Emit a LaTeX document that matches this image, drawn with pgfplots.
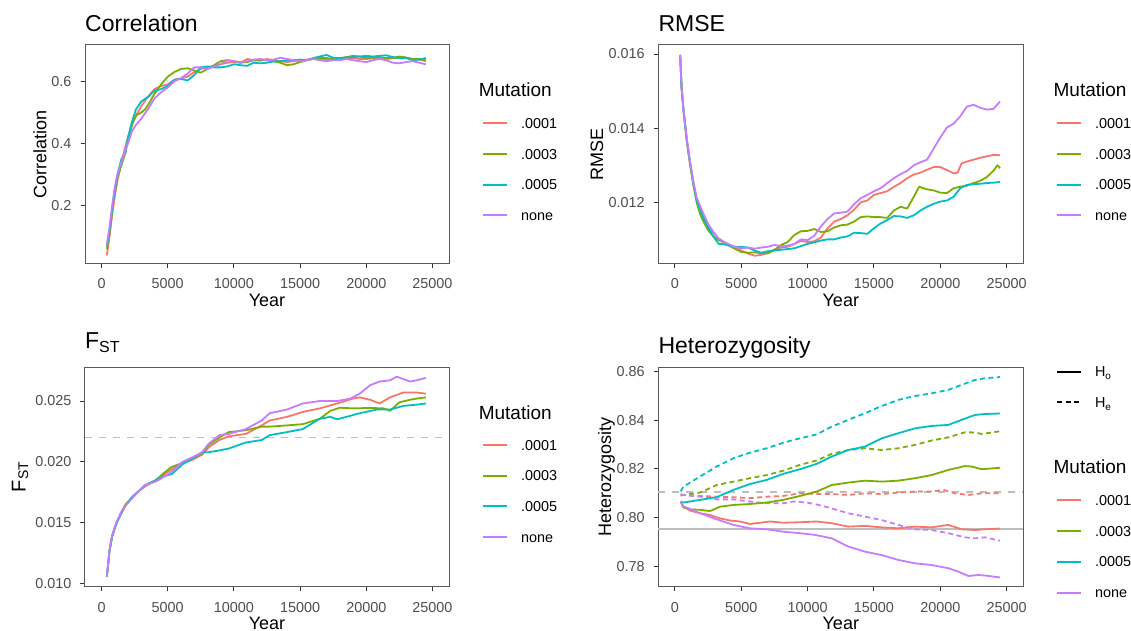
\documentclass[border=0pt]{standalone}
\usepackage{fontspec}
\setmainfont{Liberation Sans}
\usepackage{pgfplots}
\pgfplotsset{compat=1.18}

\definecolor{mu1}{HTML}{F8766D}
\definecolor{mu3}{HTML}{7CAE00}
\definecolor{mu5}{HTML}{00BFC4}
\definecolor{mun}{HTML}{C77CFF}
\definecolor{gg20}{HTML}{333333}
\definecolor{gg30}{HTML}{4D4D4D}
\definecolor{frame}{HTML}{5A5A5A}
\definecolor{refl}{HTML}{BEBEBE}

\newcommand{\fs}[1]{\fontsize{#1}{#1}\selectfont}

\tikzset{legtitle/.style={anchor=base west, inner sep=0pt, font=\fs{19}}}

\pgfplotsset{
  panel/.style={
    scale only axis, anchor=south west, clip=false,
    xmin=-1250, xmax=26250,
    xtick={0,5000,10000,15000,20000,25000},
    tick align=outside, tick pos=left, major tick length=4.5pt,
    tick style={draw=gg20, line width=1pt},
    axis line style={draw=frame, line width=1pt},
    /pgf/number format/assume math mode=true,
    tick label style={font=\fs{14.4}, text=gg30},
    xticklabel style={anchor=north, inner sep=0pt, yshift=-10.6pt,
      /pgf/number format/1000 sep={}},
    yticklabel style={anchor=east, inner sep=0pt, xshift=-9pt},
    scaled ticks=false,
    label style={font=\fs{18}},
    xlabel={Year},
    title style={font=\fs{23}, anchor=base west, inner sep=0pt, yshift=-6pt},
    legend cell align=left,
    legend image code/.code={\draw[##1, line width=2pt] (0pt,0pt) -- (24pt,0pt);},
    legend style={draw=none, fill=none, inner sep=0pt, outer sep=0pt,
      anchor=north west, font=\fs{14.4}, /tikz/column sep=13pt,
      /tikz/row sep=0pt,
      nodes={inner sep=0pt, text height=10.3pt, text depth=0pt,
        minimum height=30.67pt, text=black}},
  },
  ser/.style={line width=1.8pt, line join=round},
  he/.style={ser, dash pattern=on 5pt off 3.5pt},
}

\begin{document}
\begin{tikzpicture}

% ---------------- Correlation ----------------
\begin{axis}[panel, at={(85pt,367.5pt)}, width=364pt, height=218.5pt,
  ymin=0.014, ymax=0.717, ytick={0.2,0.4,0.6},
  yticklabel style={/pgf/number format/.cd, fixed, fixed zerofill, precision=1},
  ylabel={Correlation},
  ylabel style={at={(axis description cs:-0.106,0.5)}, anchor=base},
  xlabel style={at={(axis description cs:0.5,-0.196)}, anchor=base},
  title={Correlation}, title style={at={(axis description cs:0,1.064)}},
  legend style={at={(1.0907,0.7118)}}]
\addplot[ser, mu1] coordinates {
(400,0.04) (600,0.10) (800,0.17) (1000,0.23) (1200,0.28) (1500,0.34) (1800,0.39)
(2000,0.42) (2300,0.46) (2600,0.49) (3000,0.52) (3500,0.55) (4000,0.575) (4500,0.585)
(5000,0.59) (5500,0.605) (6000,0.61) (6500,0.615) (7000,0.63) (7500,0.64) (8000,0.645)
(8500,0.65) (9000,0.655) (9500,0.66) (10000,0.662) (10500,0.66) (11000,0.672)
(11500,0.668) (12000,0.666) (12500,0.672) (13000,0.668) (13500,0.665) (14000,0.662)
(14500,0.665) (15000,0.668) (15500,0.67) (16000,0.672) (16500,0.672) (17000,0.67)
(17500,0.672) (18000,0.673) (18500,0.675) (19000,0.675) (19500,0.672) (20000,0.672)
(20500,0.674) (21000,0.672) (21500,0.672) (22000,0.674) (22500,0.675) (23000,0.675)
(23500,0.672) (24000,0.67) (24500,0.665)};
\addlegendentry{.0001}
\addplot[ser, mu3] coordinates {
(400,0.06) (600,0.11) (800,0.18) (1000,0.24) (1200,0.29) (1500,0.33) (1800,0.37)
(2000,0.41) (2300,0.46) (2600,0.49) (3000,0.50) (3300,0.51) (3600,0.53) (4000,0.56)
(4500,0.59) (5000,0.615) (5500,0.63) (6000,0.64) (6500,0.642) (7000,0.635) (7500,0.628)
(8000,0.64) (8500,0.652) (9000,0.665) (9500,0.668) (10000,0.665) (10500,0.66)
(11000,0.662) (11500,0.668) (12000,0.67) (12500,0.668) (13000,0.665) (13500,0.66)
(14000,0.652) (14500,0.655) (15000,0.662) (15500,0.668) (16000,0.672) (16500,0.675)
(17000,0.675) (17500,0.672) (18000,0.674) (18500,0.678) (19000,0.682) (19500,0.68)
(20000,0.676) (20500,0.676) (21000,0.678) (21500,0.675) (22000,0.676) (22500,0.68)
(23000,0.677) (23500,0.672) (24000,0.672) (24500,0.668)};
\addlegendentry{.0003}
\addplot[ser, mu5] coordinates {
(400,0.07) (600,0.12) (800,0.19) (1000,0.25) (1200,0.30) (1500,0.35) (1800,0.37)
(2000,0.42) (2300,0.47) (2600,0.51) (3000,0.535) (3500,0.55) (4000,0.57) (4500,0.575)
(5000,0.585) (5500,0.605) (6000,0.608) (6500,0.603) (7000,0.62) (7500,0.645)
(8000,0.648) (8500,0.645) (9000,0.645) (9500,0.648) (10000,0.655) (10500,0.652)
(11000,0.65) (11500,0.66) (12000,0.658) (12500,0.66) (13000,0.664) (13500,0.665)
(14000,0.668) (14500,0.668) (15000,0.67) (15500,0.668) (16000,0.675) (16500,0.68)
(17000,0.685) (17500,0.676) (18000,0.675) (18500,0.677) (19000,0.678) (19500,0.68)
(20000,0.682) (20500,0.68) (21000,0.682) (21500,0.684) (22000,0.678) (22500,0.675)
(23000,0.675) (23500,0.668) (24000,0.67) (24500,0.675)};
\addlegendentry{.0005}
\addplot[ser, mun] coordinates {
(400,0.075) (600,0.13) (800,0.2) (1000,0.26) (1200,0.30) (1500,0.34) (1800,0.38)
(2000,0.40) (2300,0.44) (2600,0.46) (3000,0.48) (3500,0.51) (4000,0.545) (4500,0.565)
(5000,0.58) (5500,0.60) (6000,0.61) (6500,0.625) (7000,0.645) (7500,0.645) (8000,0.64)
(8500,0.648) (9000,0.655) (9500,0.668) (10000,0.665) (10500,0.662) (11000,0.665)
(11500,0.67) (12000,0.672) (12500,0.668) (13000,0.67) (13500,0.676) (14000,0.672)
(14500,0.668) (15000,0.665) (15500,0.668) (16000,0.672) (16500,0.668) (17000,0.665)
(17500,0.668) (18000,0.668) (18500,0.672) (19000,0.668) (19500,0.665) (20000,0.662)
(20500,0.668) (21000,0.672) (21500,0.668) (22000,0.66) (22500,0.658) (23000,0.662)
(23500,0.665) (24000,0.66) (24500,0.655)};
\addlegendentry{none}
\node[legtitle] at (axis description cs:1.0813,0.7634) {Mutation};
\end{axis}

% ---------------- RMSE ----------------
\begin{axis}[panel, at={(658.3pt,367.5pt)}, width=365pt, height=218.5pt,
  ymin=0.01035, ymax=0.016243, ytick={0.012,0.014,0.016},
  yticklabel style={/pgf/number format/.cd, fixed, fixed zerofill, precision=3},
  ylabel={RMSE},
  ylabel style={at={(axis description cs:-0.1515,0.5)}, anchor=base},
  xlabel style={at={(axis description cs:0.5,-0.196)}, anchor=base},
  title={RMSE}, title style={at={(axis description cs:0,1.064)}},
  legend style={at={(1.0896,0.7118)}}]
\addplot[ser, mu1] coordinates {
(400,0.01596) (500,0.0151) (650,0.01445) (900,0.01365) (1150,0.01302) (1400,0.01248)
(1650,0.01205) (1900,0.01178) (2150,0.01158) (2500,0.01135) (2900,0.01118)
(3300,0.01102) (3650,0.01094) (4000,0.01087) (4500,0.01078) (5000,0.0107)
(5500,0.01062) (6000,0.01056) (6500,0.01058) (7000,0.01064) (7500,0.01072)
(8000,0.01078) (8500,0.0108) (9000,0.01088) (9500,0.01096) (10000,0.01093)
(10500,0.01095) (11000,0.01105) (11500,0.0113) (12000,0.01148) (12500,0.01155)
(13000,0.01165) (13500,0.0118) (14000,0.012) (14500,0.01205) (15000,0.0122)
(15500,0.01225) (16000,0.0123) (16500,0.01242) (17000,0.01252) (17500,0.01265)
(18000,0.01275) (18500,0.0128) (19000,0.01288) (19500,0.01295) (20000,0.01295)
(20500,0.01287) (21000,0.01278) (21300,0.0128) (21600,0.01305) (22000,0.0131)
(22500,0.01315) (23000,0.0132) (23500,0.01324) (24000,0.01328) (24500,0.01327)};
\addlegendentry{.0001}
\addplot[ser, mu3] coordinates {
(400,0.01596) (500,0.0151) (650,0.01447) (900,0.01365) (1150,0.013) (1400,0.01244)
(1650,0.01198) (1900,0.01168) (2150,0.01148) (2500,0.01125) (2900,0.01108)
(3300,0.01098) (3650,0.01092) (4000,0.01085) (4500,0.01075) (5000,0.01066)
(5500,0.01064) (6000,0.01065) (6500,0.01063) (7000,0.01062) (7500,0.01072)
(8000,0.01085) (8500,0.01093) (9000,0.01112) (9500,0.01122) (10000,0.01123)
(10500,0.01128) (11000,0.0112) (11500,0.01122) (12000,0.01132) (12500,0.01138)
(13000,0.0114) (13500,0.01148) (14000,0.0116) (14500,0.01162) (15000,0.0116)
(15500,0.0116) (16000,0.01158) (16500,0.01178) (17000,0.01188) (17500,0.01183)
(18000,0.01215) (18400,0.01242) (19000,0.01235) (19500,0.01232) (20000,0.01226)
(20500,0.01225) (21000,0.01238) (21500,0.01242) (22000,0.01245) (22500,0.01252)
(23000,0.01258) (23500,0.01268) (24000,0.01285) (24300,0.013) (24500,0.01292)};
\addlegendentry{.0003}
\addplot[ser, mu5] coordinates {
(400,0.01598) (500,0.01512) (650,0.0145) (900,0.01368) (1150,0.01305) (1400,0.0125)
(1650,0.01205) (1900,0.0118) (2150,0.01158) (2500,0.01132) (2900,0.01108)
(3300,0.01088) (3650,0.01087) (4000,0.01084) (4500,0.0108) (5000,0.0108)
(5500,0.01078) (6000,0.0107) (6500,0.01064) (7000,0.01068) (7500,0.0107)
(8000,0.01072) (8500,0.01074) (9000,0.01076) (9500,0.01082) (10000,0.01088)
(10500,0.01092) (11000,0.01097) (11500,0.011) (12000,0.011) (12500,0.01105)
(13000,0.01108) (13500,0.01118) (14000,0.01117) (14500,0.01115) (15000,0.0113)
(15500,0.01143) (16000,0.01152) (16500,0.01163) (17000,0.01162) (17500,0.01158)
(18000,0.01165) (18500,0.01178) (19000,0.01188) (19500,0.01196) (20000,0.01202)
(20500,0.01205) (21000,0.01215) (21500,0.01238) (22000,0.01247) (22500,0.01249)
(23000,0.0125) (23500,0.01252) (24000,0.01253) (24500,0.01255)};
\addlegendentry{.0005}
\addplot[ser, mun] coordinates {
(400,0.01596) (500,0.01512) (650,0.0145) (900,0.0137) (1150,0.01308) (1400,0.01255)
(1650,0.01212) (1900,0.0119) (2150,0.01169) (2500,0.01142) (2900,0.0112)
(3300,0.01102) (3650,0.01094) (4000,0.01088) (4500,0.0108) (5000,0.01076)
(5500,0.01078) (6000,0.01075) (6500,0.01078) (7000,0.0108) (7500,0.01085)
(8000,0.01082) (8500,0.01083) (9000,0.01088) (9500,0.011) (10000,0.01098)
(10500,0.0111) (11000,0.01135) (11500,0.01155) (12000,0.0117) (12500,0.01172)
(13000,0.01175) (13500,0.01195) (14000,0.01211) (14500,0.0122) (15000,0.0123)
(15500,0.01238) (16000,0.01252) (16500,0.01265) (17000,0.01276) (17500,0.01285)
(18000,0.013) (18500,0.01308) (19000,0.01315) (19500,0.01345) (20000,0.01375)
(20500,0.01402) (21000,0.01412) (21500,0.01432) (22000,0.01458) (22500,0.01463)
(23000,0.01455) (23500,0.0145) (24000,0.01452) (24500,0.01472)};
\addlegendentry{none}
\node[legtitle] at (axis description cs:1.0825,0.7634) {Mutation};
\end{axis}

% ---------------- F_ST ----------------
\begin{axis}[panel, at={(85pt,44.3pt)}, width=364pt, height=219.2pt,
  ymin=0.00977, ymax=0.02775, ytick={0.010,0.015,0.020,0.025},
  yticklabel style={/pgf/number format/.cd, fixed, fixed zerofill, precision=3},
  ylabel={\fs{20}F\raisebox{-2.5pt}{\fs{14}ST}},
  ylabel style={at={(axis description cs:-0.163,0.5)}, anchor=base},
  xlabel style={at={(axis description cs:0.5,-0.193)}, anchor=base},
  title={F\raisebox{-4pt}{\fs{16}ST}}, title style={at={(axis description cs:0,1.0876)}},
  legend style={at={(1.0907,0.7164)}}]
\addplot[forget plot, line width=1.8pt, refl, dash pattern=on 7pt off 7pt]
  coordinates {(-1250,0.0220) (26250,0.0220)};
\addplot[ser, mu1] coordinates {
(400,0.0106) (500,0.0116) (600,0.0127) (800,0.0139) (1100,0.0149) (1450,0.0157)
(1800,0.0164) (2300,0.0171) (2800,0.0176) (3300,0.0180) (4100,0.0185) (4600,0.0189)
(5300,0.0194) (6100,0.0199) (6900,0.0202) (7600,0.0206) (8100,0.0212) (8900,0.0218)
(9600,0.0221) (10900,0.0223) (12100,0.0230) (12700,0.0234) (14000,0.0237)
(15200,0.0241) (16500,0.0244) (17800,0.0248) (19000,0.0252) (19500,0.0253)
(20300,0.0251) (21000,0.0248) (21800,0.0253) (22800,0.0257) (23800,0.0257) (24500,0.0256)};
\addlegendentry{.0001}
\addplot[ser, mu3] coordinates {
(400,0.0106) (500,0.0116) (600,0.0127) (800,0.0139) (1100,0.0149) (1450,0.0158)
(1800,0.0165) (2300,0.0171) (2800,0.0176) (3300,0.0181) (4100,0.0185) (4600,0.0190)
(5300,0.0196) (6100,0.0199) (6900,0.0203) (7600,0.0207) (8100,0.0214) (8900,0.0220)
(9600,0.02245) (10900,0.0226) (12100,0.0229) (12700,0.0229) (14000,0.0230)
(15200,0.0231) (16500,0.02355) (17300,0.0242) (18000,0.02445) (19000,0.0244)
(20300,0.02443) (21300,0.0244) (21800,0.0242) (22500,0.0249) (23300,0.0251)
(23800,0.0252) (24500,0.0253)};
\addlegendentry{.0003}
\addplot[ser, mu5] coordinates {
(400,0.0106) (500,0.0116) (600,0.0127) (800,0.0139) (1100,0.0149) (1450,0.0157)
(1800,0.0164) (2300,0.0171) (2800,0.0176) (3300,0.0181) (4100,0.0185) (4600,0.0188)
(5300,0.0190) (6100,0.0198) (6900,0.0203) (7600,0.0208) (8100,0.0208) (8900,0.02095)
(9600,0.0211) (10900,0.0216) (12100,0.0218) (12700,0.0222) (14000,0.02245)
(15200,0.0227) (16500,0.02355) (17300,0.0237) (17800,0.0235) (18500,0.0237)
(19500,0.0240) (20800,0.0243) (21800,0.0243) (22800,0.0246) (23800,0.0247) (24500,0.0248)};
\addlegendentry{.0005}
\addplot[ser, mun] coordinates {
(400,0.0106) (500,0.0117) (600,0.0128) (800,0.0140) (1100,0.0150) (1450,0.0158)
(1800,0.0164) (2300,0.0170) (2800,0.0176) (3300,0.0181) (4100,0.0184) (4600,0.0187)
(5300,0.0192) (6100,0.0200) (6900,0.0204) (7600,0.0208) (8100,0.0215) (8900,0.0222)
(9600,0.0223) (10900,0.0227) (12100,0.0234) (12700,0.0240) (14000,0.0243)
(15200,0.0248) (16500,0.0250) (17800,0.0250) (18800,0.0252) (19500,0.0256)
(20300,0.0263) (21000,0.0266) (21800,0.0267) (22300,0.0270) (22800,0.0268)
(23300,0.0266) (23800,0.0267) (24500,0.0269)};
\addlegendentry{none}
\node[legtitle] at (axis description cs:1.0813,0.7637) {Mutation};
\end{axis}

% ---------------- Heterozygosity ----------------
\begin{axis}[panel, at={(658.3pt,44.3pt)}, width=365pt, height=219.4pt,
  ymin=0.7716, ymax=0.8618, ytick={0.78,0.80,0.82,0.84,0.86},
  yticklabel style={/pgf/number format/.cd, fixed, fixed zerofill, precision=2},
  ylabel={Heterozygosity},
  ylabel style={at={(axis description cs:-0.1296,0.5)}, anchor=base},
  xlabel style={at={(axis description cs:0.5,-0.193)}, anchor=base},
  title={Heterozygosity}, title style={at={(axis description cs:0,1.0638)}},
  legend style={at={(1.0896,0.4654)},
    nodes={minimum height=30.9pt}}]
\addplot[forget plot, line width=1.8pt, refl, dash pattern=on 7pt off 7pt]
  coordinates {(-1250,0.8105) (26250,0.8105)};
\addplot[forget plot, line width=1.8pt, refl]
  coordinates {(-1250,0.7952) (26250,0.7952)};
% H_e (dotted)
\addplot[he, mu1, forget plot] coordinates {
(435,0.8092) (636,0.8093) (1892,0.8089) (3147,0.8086) (4403,0.8084) (5658,0.808)
(6914,0.8086) (8169,0.8089) (9425,0.81) (10680,0.8097) (11812,0.8097) (13067,0.8093)
(14323,0.81) (15578,0.8097) (16834,0.8103) (18089,0.8107) (19345,0.8107)
(20224,0.8114) (21103,0.81) (22107,0.8093) (23111,0.81) (24500,0.8100)};
\addplot[he, mu3, forget plot] coordinates {
(435,0.8096) (636,0.8093) (1892,0.8103) (3147,0.8134) (4403,0.8148) (5658,0.8162)
(6914,0.8175) (8169,0.8193) (9425,0.8217) (10680,0.8235) (11812,0.8262)
(13067,0.8278) (14323,0.8285) (15578,0.8278) (16834,0.8285) (18089,0.8299)
(19345,0.8317) (20600,0.833) (21856,0.8351) (22609,0.835) (23111,0.8344) (24500,0.8355)};
\addplot[he, mu5, forget plot] coordinates {
(435,0.8108) (636,0.8127) (1892,0.8169) (3147,0.821) (4403,0.8244) (5658,0.8267)
(6914,0.8285) (8169,0.8308) (9425,0.8326) (10680,0.8342) (11812,0.8374)
(13067,0.8402) (14323,0.8429) (15578,0.8459) (16834,0.8484) (18089,0.85)
(19345,0.8511) (20600,0.8525) (21604,0.8546) (22609,0.8566) (23362,0.8573) (24500,0.8578)};
\addplot[he, mun, forget plot] coordinates {
(435,0.809) (636,0.8093) (1892,0.8086) (3147,0.8075) (4403,0.8075) (5658,0.8066)
(6914,0.8059) (8169,0.8059) (8922,0.8066) (9927,0.8062) (10680,0.8054)
(11812,0.8038) (13067,0.8018) (14323,0.8004) (15578,0.799) (16834,0.797)
(18089,0.7952) (19345,0.7949) (20600,0.7936) (21856,0.7919) (22609,0.7915)
(23362,0.7919) (24500,0.7905)};
% H_o (solid)
\addplot[ser, mu1] coordinates {
(435,0.8066) (636,0.8045) (1138,0.8029) (1892,0.8018) (2645,0.8011) (3398,0.7997)
(4151,0.7988) (4905,0.7984) (5658,0.7974) (6411,0.7979) (7165,0.7984) (8169,0.7979)
(9425,0.7981) (10680,0.7984) (11812,0.7977) (13067,0.7963) (14323,0.7966)
(15578,0.796) (16834,0.7956) (18089,0.7963) (19345,0.796) (20600,0.797)
(21604,0.7952) (22609,0.7949) (23362,0.7952) (24500,0.7955)};
\addlegendentry{.0001}
\addplot[ser, mu3] coordinates {
(435,0.8066) (636,0.8042) (1138,0.8034) (1892,0.8032) (2645,0.8027) (3398,0.8045)
(4403,0.8052) (5658,0.8056) (6914,0.8062) (8169,0.8073) (9425,0.8089) (10680,0.8107)
(11812,0.8134) (13067,0.8144) (14323,0.8152) (15578,0.8148) (16834,0.8152)
(18089,0.8162) (19345,0.8175) (20600,0.8196) (21856,0.8212) (22358,0.821)
(23111,0.8199) (24500,0.8205)};
\addlegendentry{.0003}
\addplot[ser, mu5] coordinates {
(435,0.8066) (636,0.8062) (1892,0.8073) (3147,0.8084) (4403,0.8114) (5658,0.8138)
(6914,0.8155) (8169,0.818) (9425,0.8199) (10680,0.8221) (11812,0.8251) (13067,0.8278)
(14323,0.8292) (15578,0.8326) (16834,0.8347) (18089,0.8367) (19345,0.8377)
(20600,0.8381) (21604,0.8402) (22609,0.8422) (23362,0.8426) (24500,0.8428)};
\addlegendentry{.0005}
\addplot[ser, mun] coordinates {
(435,0.8066) (636,0.8047) (1892,0.8018) (3147,0.7993) (4403,0.797) (5658,0.7956)
(6914,0.7952) (8169,0.7942) (9425,0.7936) (10556,0.7929) (11812,0.7915)
(13067,0.7881) (14323,0.786) (15578,0.7846) (16834,0.7826) (18089,0.7812)
(19345,0.7805) (20600,0.7792) (21353,0.7778) (22107,0.776) (22860,0.7764)
(23362,0.7762) (24500,0.7754)};
\addlegendentry{none}
\node[legtitle] at (axis description cs:1.0825,0.5137) {Mutation};
\end{axis}

% linetype legend (H_o / H_e)
\begin{axis}[panel, at={(658.3pt,44.3pt)}, width=365pt, height=219.4pt,
  hide axis, ymin=0.7716, ymax=0.8618,
  legend style={at={(1.0896,1.0497)}, nodes={minimum height=30.6pt}}]
\addlegendimage{black, line width=2pt}
\addlegendentry{H\raisebox{-3pt}{\fs{10}o}}
\addlegendimage{black, line width=2pt, dash pattern=on 5pt off 3.5pt}
\addlegendentry{H\raisebox{-3pt}{\fs{10}e}}
\end{axis}

\pgfresetboundingbox
\useasboundingbox (0pt,0pt) rectangle (1131pt,631pt);
\end{tikzpicture}
\end{document}
